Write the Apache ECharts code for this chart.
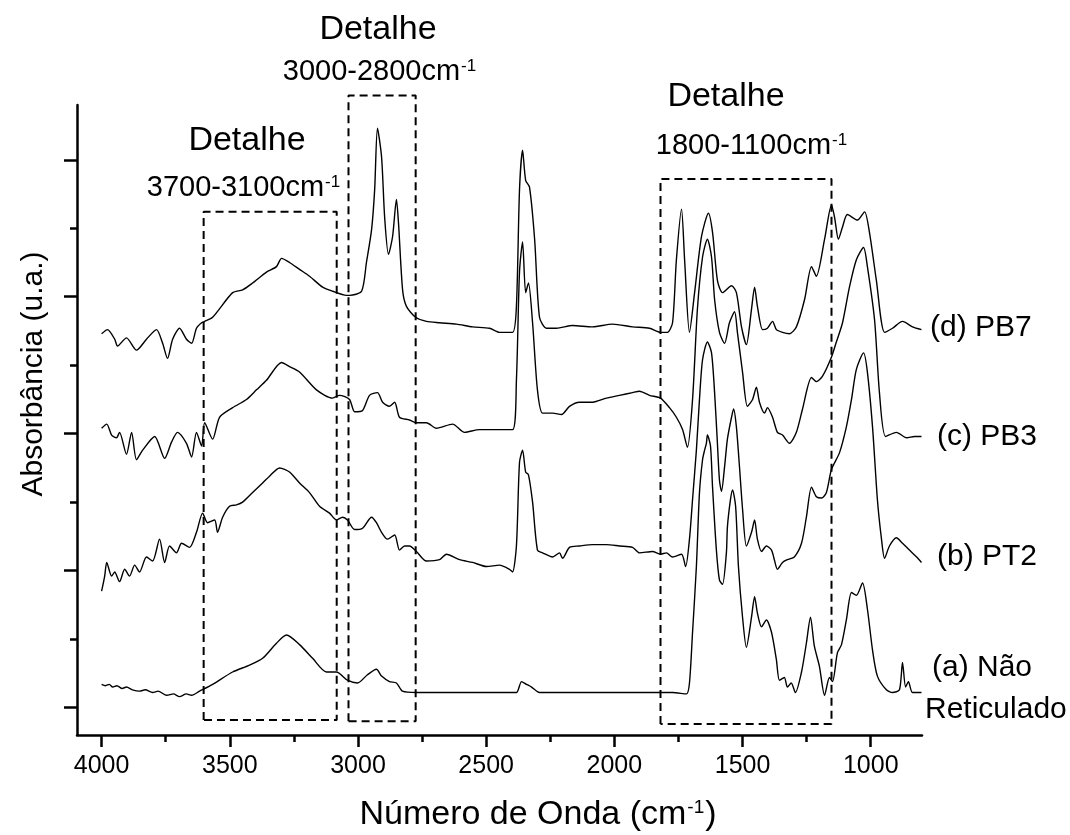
<!DOCTYPE html>
<html><head><meta charset="utf-8">
<script src="https://cdn.jsdelivr.net/npm/echarts@6/dist/echarts.min.js"></script>
<style>html,body{margin:0;padding:0;background:#fff}#c{width:1070px;height:835px}</style>
</head><body><div id="c"></div>
<script>
// Tick positions (cm^-1) and y ticks (arbitrary units)
const xTicks = [1000, 1500, 2000, 2500, 3000, 3500, 4000];
const xMinorTicks = [1250, 1750, 2250, 2750, 3250, 3750];
const yTicks = [0, 1, 2, 3, 4];
const yMinorTicks = [0.5, 1.5, 2.5, 3.5];

// Spectra: [wavenumber, absorbance (offset, a.u.)]
const specD = [[4000,2.73],[3977,2.76],[3949,2.69],[3938,2.64],[3903,2.70],[3864,2.61],[3825,2.69],[3786,2.76],[3762,2.66],[3743,2.55],[3723,2.69],[3696,2.77],[3669,2.69],[3649,2.66],[3630,2.77],[3610,2.81],[3598,2.82],[3567,2.85],[3489,3.03],[3450,3.05],[3411,3.10],[3357,3.18],[3318,3.22],[3298,3.28],[3267,3.25],[3228,3.20],[3189,3.15],[3138,3.07],[3099,3.04],[3045,3.01],[3033,3.01],[2986,3.04],[2967,3.25],[2947,3.49],[2935,3.78],[2924,4.23],[2908,4.02],[2896,3.58],[2881,3.31],[2865,3.44],[2850,3.71],[2842,3.54],[2826,3.05],[2811,2.93],[2775,2.85],[2733,2.82],[2682,2.81],[2616,2.80],[2553,2.78],[2487,2.77],[2448,2.74],[2397,2.74],[2382,2.93],[2370,3.78],[2358,4.07],[2346,3.85],[2331,3.80],[2311,3.42],[2292,2.85],[2265,2.77],[2226,2.77],[2163,2.79],[2085,2.78],[2007,2.80],[1929,2.78],[1863,2.77],[1820,2.74],[1793,2.74],[1773,2.81],[1758,3.27],[1738,3.64],[1726,3.27],[1707,2.74],[1687,3.03],[1660,3.44],[1633,3.61],[1617,3.47],[1598,3.12],[1578,3.03],[1543,3.08],[1524,3.03],[1504,2.78],[1485,2.65],[1465,2.91],[1453,3.07],[1442,2.93],[1422,2.76],[1403,2.77],[1383,2.82],[1368,2.76],[1344,2.74],[1317,2.73],[1290,2.78],[1258,2.98],[1231,3.22],[1212,3.15],[1180,3.42],[1153,3.67],[1141,3.58],[1126,3.42],[1110,3.51],[1091,3.60],[1052,3.56],[1024,3.62],[1005,3.47],[978,3.12],[946,2.74],[915,2.77],[876,2.82],[837,2.78],[802,2.76]];

const specC = [[4000,2.04],[3980,2.07],[3961,1.99],[3942,1.97],[3930,2.01],[3903,1.85],[3883,2.01],[3864,1.81],[3840,1.88],[3793,1.98],[3754,1.82],[3727,1.94],[3704,2.01],[3669,1.93],[3649,1.83],[3630,2.01],[3610,1.91],[3598,2.08],[3567,1.96],[3540,2.12],[3489,2.19],[3435,2.25],[3396,2.32],[3357,2.39],[3298,2.52],[3267,2.49],[3228,2.45],[3162,2.32],[3099,2.26],[3072,2.28],[3033,2.25],[3013,2.16],[2982,2.17],[2955,2.28],[2924,2.30],[2904,2.23],[2877,2.20],[2857,2.23],[2838,2.12],[2799,2.10],[2772,2.08],[2733,2.08],[2694,2.04],[2631,2.07],[2584,2.01],[2526,2.03],[2460,2.03],[2397,2.03],[2382,2.39],[2370,3.18],[2358,3.40],[2346,3.03],[2335,3.10],[2319,2.81],[2300,2.32],[2280,2.15],[2241,2.15],[2206,2.14],[2175,2.20],[2136,2.23],[2085,2.23],[2031,2.26],[1980,2.28],[1929,2.30],[1902,2.31],[1863,2.28],[1820,2.26],[1785,2.19],[1758,2.12],[1734,2.03],[1715,1.90],[1695,2.25],[1676,2.91],[1656,3.29],[1637,3.42],[1621,3.29],[1609,2.98],[1590,2.74],[1570,2.66],[1551,2.81],[1531,2.89],[1520,2.74],[1500,2.45],[1481,2.20],[1461,2.25],[1446,2.34],[1434,2.23],[1414,2.15],[1403,2.19],[1383,2.12],[1364,2.01],[1344,1.99],[1317,1.93],[1290,2.01],[1266,2.18],[1231,2.41],[1212,2.38],[1188,2.42],[1153,2.56],[1134,2.67],[1110,2.81],[1083,3.07],[1056,3.27],[1028,3.36],[1013,3.22],[985,2.83],[966,2.30],[942,1.98],[900,2.01],[860,1.97],[829,1.98],[802,1.98]];

const specB = [[4000,0.85],[3988,0.96],[3980,1.06],[3961,0.96],[3949,0.99],[3930,0.92],[3910,1.01],[3891,0.96],[3871,1.04],[3852,0.99],[3825,1.10],[3801,1.07],[3774,1.23],[3754,1.06],[3735,1.18],[3708,1.13],[3688,1.20],[3657,1.17],[3630,1.28],[3606,1.42],[3587,1.35],[3559,1.37],[3548,1.28],[3528,1.39],[3501,1.47],[3474,1.48],[3450,1.50],[3411,1.57],[3372,1.64],[3345,1.69],[3306,1.75],[3267,1.72],[3228,1.64],[3189,1.57],[3150,1.47],[3111,1.42],[3084,1.37],[3060,1.39],[3041,1.37],[3013,1.30],[2982,1.31],[2947,1.39],[2928,1.35],[2908,1.28],[2885,1.23],[2857,1.26],[2838,1.15],[2818,1.18],[2799,1.18],[2772,1.14],[2733,1.07],[2682,1.08],[2655,1.12],[2604,1.08],[2553,1.06],[2499,1.03],[2448,1.04],[2409,1.01],[2397,0.99],[2382,1.18],[2370,1.79],[2358,1.88],[2346,1.72],[2335,1.70],[2319,1.50],[2300,1.15],[2280,1.13],[2241,1.10],[2214,1.13],[2202,1.09],[2175,1.17],[2136,1.18],[2085,1.19],[2031,1.19],[1980,1.18],[1929,1.17],[1902,1.13],[1851,1.14],[1820,1.12],[1797,1.13],[1773,1.10],[1738,1.12],[1722,1.03],[1707,1.23],[1695,1.52],[1680,1.88],[1668,2.25],[1656,2.54],[1637,2.67],[1621,2.59],[1609,2.30],[1598,1.93],[1590,1.66],[1582,1.58],[1570,1.76],[1559,1.96],[1543,2.12],[1535,2.18],[1524,2.05],[1512,1.76],[1500,1.45],[1485,1.18],[1465,1.28],[1453,1.37],[1442,1.23],[1426,1.14],[1407,1.18],[1387,1.15],[1376,1.08],[1364,1.01],[1344,1.06],[1325,1.08],[1298,1.10],[1270,1.20],[1251,1.39],[1231,1.61],[1212,1.54],[1192,1.53],[1173,1.57],[1153,1.74],[1122,1.86],[1095,2.05],[1075,2.25],[1056,2.47],[1028,2.59],[1013,2.45],[993,2.05],[974,1.52],[958,1.23],[946,1.09],[927,1.18],[900,1.24],[876,1.20],[849,1.15],[821,1.10],[802,1.06]];

const specA = [[4000,0.17],[3985,0.16],[3970,0.17],[3957,0.15],[3940,0.16],[3920,0.14],[3903,0.15],[3880,0.13],[3852,0.12],[3830,0.13],[3801,0.11],[3780,0.12],[3746,0.09],[3720,0.10],[3696,0.08],[3670,0.10],[3649,0.09],[3618,0.12],[3567,0.17],[3489,0.26],[3423,0.31],[3372,0.36],[3318,0.47],[3279,0.53],[3228,0.46],[3177,0.36],[3123,0.26],[3084,0.26],[3041,0.20],[3002,0.18],[2963,0.24],[2928,0.28],[2908,0.23],[2877,0.19],[2850,0.18],[2826,0.12],[2772,0.11],[2682,0.11],[2553,0.11],[2420,0.11],[2382,0.11],[2362,0.19],[2343,0.17],[2323,0.15],[2292,0.11],[2163,0.11],[2031,0.11],[1902,0.11],[1820,0.11],[1773,0.11],[1719,0.10],[1707,0.18],[1695,0.55],[1680,1.03],[1668,1.57],[1656,1.81],[1648,1.88],[1641,1.93],[1637,1.99],[1625,1.91],[1617,1.61],[1602,1.15],[1590,0.93],[1578,0.90],[1563,1.13],[1559,1.32],[1547,1.52],[1539,1.59],[1527,1.47],[1516,1.03],[1500,0.66],[1485,0.44],[1465,0.66],[1453,0.81],[1442,0.69],[1426,0.59],[1407,0.64],[1387,0.55],[1368,0.35],[1356,0.20],[1337,0.22],[1325,0.15],[1310,0.18],[1294,0.11],[1270,0.26],[1251,0.47],[1235,0.66],[1220,0.45],[1200,0.30],[1180,0.09],[1161,0.22],[1149,0.19],[1130,0.40],[1114,0.46],[1095,0.64],[1075,0.84],[1056,0.82],[1032,0.91],[1013,0.72],[993,0.42],[974,0.23],[939,0.13],[915,0.11],[888,0.13],[876,0.33],[864,0.15],[853,0.19],[837,0.11],[802,0.11]];

// Dashed "Detalhe" boxes: [wn left, wn right, abs bottom, abs top]
const boxes = [[3602, 3083, -0.09, 3.62], [3037, 2775, -0.10, 4.47], [1820, 1153, -0.12, 3.86]];

const FONT = "'Liberation Sans', Arial, Helvetica, sans-serif";
const chart = echarts.init(document.getElementById('c'), null, {renderer: 'canvas'});

const series = [specA, specB, specC, specD].map(d => ({
  type: 'line', data: d, showSymbol: false, smooth: 0.25, silent: true, z: 3,
  lineStyle: {color: '#000', width: 1.4}
}));
boxes.forEach(b => series.push({
  type: 'line', showSymbol: false, clip: false, silent: true, z: 2,
  data: [[b[0], b[2]], [b[0], b[3]], [b[1], b[3]], [b[1], b[2]], [b[0], b[2]]],
  lineStyle: {color: '#000', width: 2, type: [8, 5]}
}));

function txt(x, y, text, size, align) {
  return {type: 'text', x: x, y: y, silent: true,
    style: {text: text, font: size + 'px ' + FONT, fill: '#000', align: align || 'center', verticalAlign: 'middle'}};
}
function supTxt(x, y, main, sup, after, size, supSize) {
  return {type: 'text', x: x, y: y, silent: true,
    style: {
      text: '{n|' + main + '}{s|' + sup + '}' + (after ? '{n|' + after + '}' : ''),
      rich: {
        n: {fontSize: size, fontFamily: FONT, fill: '#000'},
        s: {fontSize: supSize, fontFamily: FONT, fill: '#000', verticalAlign: 'top', padding: [0, 1, 0, 1]}
      },
      fill: '#000', align: 'center', verticalAlign: 'middle', font: size + 'px ' + FONT}};
}

const option = {
  animation: false,
  backgroundColor: '#fff',
  grid: {left: 77, right: 148, top: 105, bottom: 100, containLabel: false},
  xAxis: [{
    type: 'value', min: 800, max: 4096, inverse: true, position: 'bottom',
    axisLine: {show: true, onZero: false, lineStyle: {color: '#000', width: 2.5}},
    axisTick: {show: true, customValues: xTicks, length: 12, lineStyle: {color: '#000', width: 2.5}},
    axisLabel: {show: true, customValues: xTicks, margin: 19, fontSize: 25, fontFamily: FONT, color: '#000', formatter: v => String(v)},
    splitLine: {show: false}
  }, {
    type: 'value', min: 800, max: 4096, inverse: true, position: 'bottom', offset: 0,
    axisLine: {show: false, onZero: false},
    axisTick: {show: true, customValues: xMinorTicks, length: 7, lineStyle: {color: '#000', width: 2.5}},
    axisLabel: {show: false}, splitLine: {show: false}
  }],
  yAxis: [{
    type: 'value', min: -0.2, max: 4.4, position: 'left',
    axisLine: {show: true, onZero: false, lineStyle: {color: '#000', width: 2.5}},
    axisTick: {show: true, customValues: yTicks, length: 13, lineStyle: {color: '#000', width: 2.5}},
    axisLabel: {show: false}, splitLine: {show: false}
  }, {
    type: 'value', min: -0.2, max: 4.4, position: 'left', offset: 0,
    axisLine: {show: false, onZero: false},
    axisTick: {show: true, customValues: yMinorTicks, length: 7, lineStyle: {color: '#000', width: 2.5}},
    axisLabel: {show: false}, splitLine: {show: false}
  }],
  series: series,
  graphic: [
    {type: 'text', x: 34, y: 374, rotation: Math.PI / 2, silent: true,
      style: {text: 'Absorbância (u.a.)', font: '30px ' + FONT, fill: '#000', align: 'center', verticalAlign: 'middle'}},
    supTxt(538, 815, 'Número de Onda (cm', '-1', ')', 34, 19),
    txt(247, 141, 'Detalhe', 34),
    supTxt(244, 188, '3700-3100cm', '-1', '', 29, 17),
    txt(378, 30, 'Detalhe', 34),
    supTxt(380, 72, '3000-2800cm', '-1', '', 29, 17),
    txt(726, 97, 'Detalhe', 34),
    supTxt(752, 146, '1800-1100cm', '-1', '', 29, 17),
    txt(930, 328, '(d) PB7', 30, 'left'),
    txt(937, 437, '(c) PB3', 30, 'left'),
    txt(937, 557, '(b) PT2', 30, 'left'),
    txt(932, 668, '(a) Não', 30, 'left'),
    txt(925, 710, 'Reticulado', 30, 'left')
  ]
};
chart.setOption(option);
</script>
</body></html>
